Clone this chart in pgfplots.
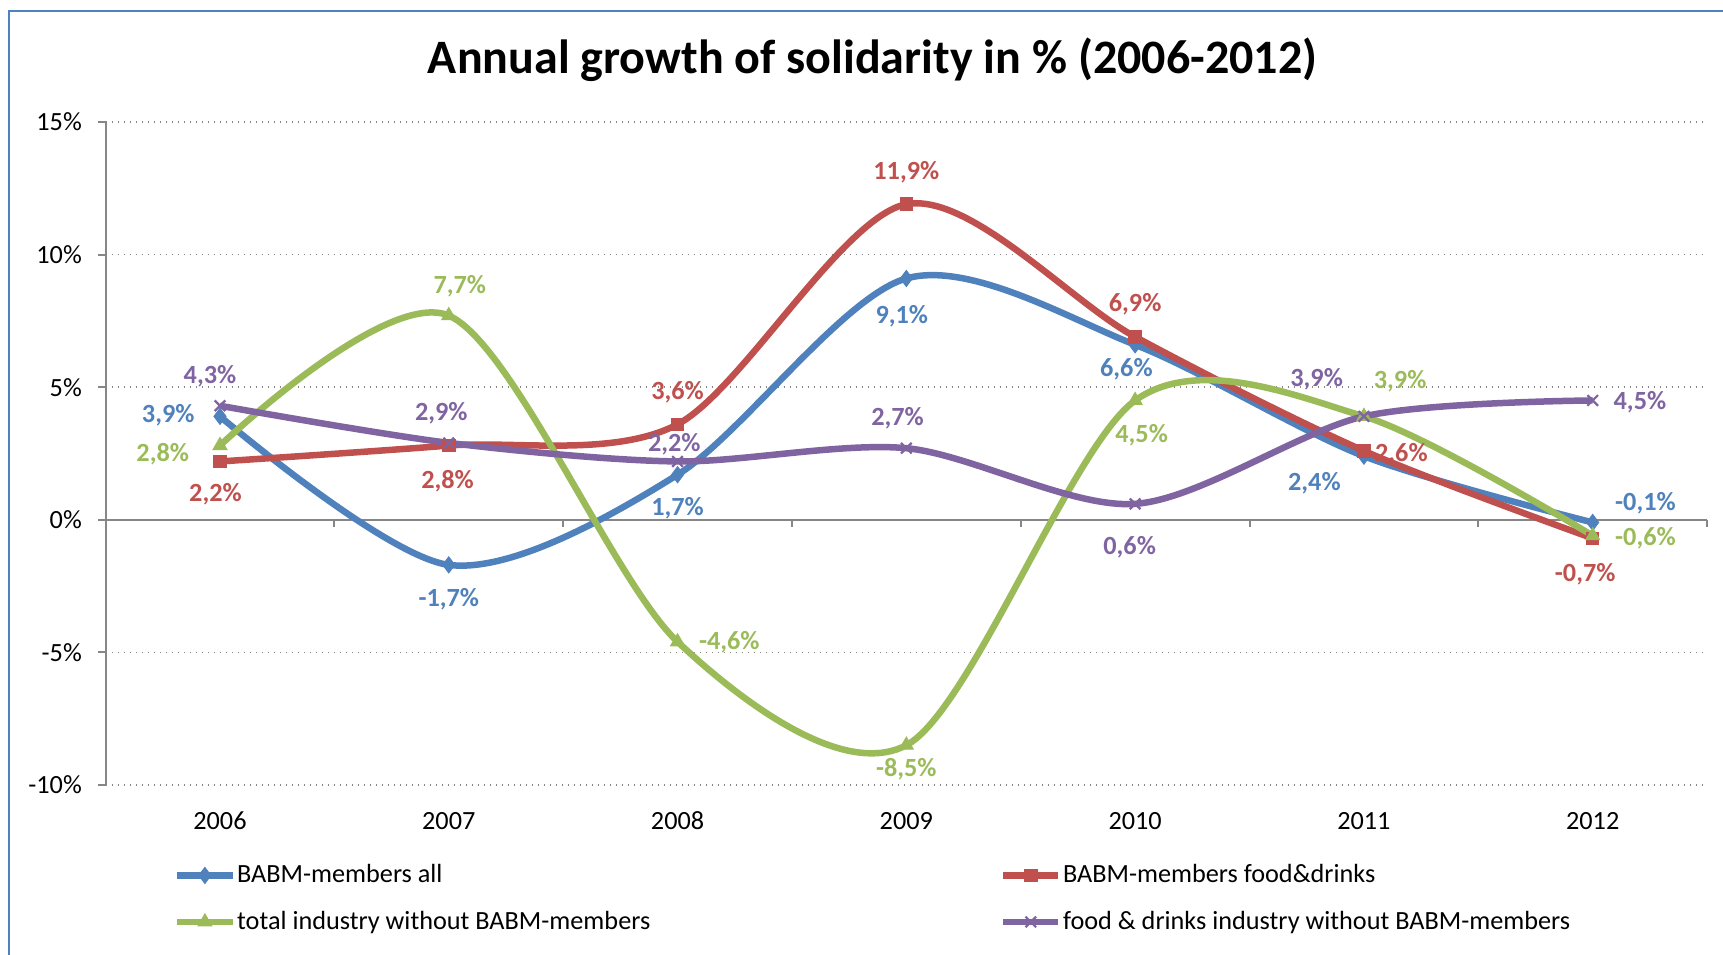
\documentclass[border=0pt]{standalone}
\usepackage{fontspec}
\setmainfont{Carlito}
\usepackage{pgfplots}
\usepackage{pgfplotstable}
\pgfplotsset{compat=1.18}

\definecolor{sBlue}{HTML}{4F81BD}
\definecolor{sRed}{HTML}{C0504D}
\definecolor{sGreen}{HTML}{9BBB59}
\definecolor{sPurple}{HTML}{8064A2}
\definecolor{axgray}{HTML}{868686}

% x = year index (0 = 2006), lab = data label, dx/dy = label offset in pt
\pgfplotstableread{
x y lab dx dy
0 3.9 3,9 -20.7 0.4
1 -1.7 -1,7 0 -13.6
2 1.7 1,7 0 -13.6
3 9.1 9,1 -1.8 -15
4 6.6 6,6 -3.5 -9.7
5 2.4 2,4 -19.8 -11
6 -0.1 -0,1 21.1 7.5
}\babmall
\pgfplotstableread{
x y lab dx dy
0 2.2 2,2 -1.8 -13.2
1 2.8 2,8 -0.5 -14.3
2 3.6 3,6 0 12.8
3 11.9 11,9 0 12.8
4 6.9 6,9 0 13.2
5 2.6 2,6 15 -1.3
6 -0.7 -0,7 -3 -14.5
}\babmfood
\pgfplotstableread{
x y lab dx dy
0 2.8 2,8 -22.9 -3.3
1 7.7 7,7 4.4 11.9
2 -4.6 -4,6 20.7 0
3 -8.5 -8,5 0 -9.7
4 4.5 4,5 2.6 -13.9
5 3.9 3,9 14.5 14.1
6 -0.6 -0,6 21.1 -1.1
}\totalind
\pgfplotstableread{
x y lab dx dy
0 4.3 4,3 -4 11.9
1 2.9 2,9 -3 11.9
2 2.2 2,2 -1.3 7
3 2.7 2,7 -3.5 11.9
4 0.6 0,6 -2.2 -17.4
5 3.9 3,9 -18.9 15
6 4.5 4,5 18.9 -0.7
}\foodind

\begin{document}
\begin{tikzpicture}
\useasboundingbox (0,0) rectangle (689.2pt,-382pt);
\draw[sBlue, line width=0.8pt] (3.4pt,-400pt) -- (3.4pt,-4.6pt) -- (700pt,-4.6pt);
\node[font=\bfseries\fontsize{19.2}{22}\selectfont] at (349pt,-24pt) {Annual growth of solidarity in \% (2006-2012)};

\begin{axis}[
  at={(42.24pt,-314pt)}, anchor=south west,
  scale only axis, width=640.6pt, height=265.2pt,
  xmin=-0.5, xmax=6.5, ymin=-10, ymax=15,
  xtick={0,...,6}, xticklabels={2006,2007,2008,2009,2010,2011,2012},
  ytick={-10,-5,0,5,10,15}, yticklabels={-10\%,-5\%,0\%,5\%,10\%,15\%},
  axis x line*=bottom, axis y line*=left,
  x axis line style={draw=none}, xtick style={draw=none},
  y axis line style={axgray, line width=0.8pt},
  ytick style={axgray, line width=0.8pt},
  tick align=outside, major tick length=3pt,
  ymajorgrids, grid style={axgray, dotted, line width=0.6pt},
  tick label style={font=\fontsize{10.5}{12}\selectfont, black},
  xticklabel style={anchor=center, yshift=-11.4pt},
  yticklabel style={xshift=-3pt},
  clip=false,
  every axis plot/.append style={line width=2.6pt, smooth},
  point meta=explicit symbolic,
  visualization depends on={\thisrow{dx} \as \ldx},
  visualization depends on={\thisrow{dy} \as \ldy},
  nodes near coords={\pgfplotspointmeta\%},
  nodes near coords style={font=\bfseries\fontsize{10.5}{12}\selectfont, anchor=center, inner sep=0pt, xshift=\ldx pt, yshift=\ldy pt},
  legend columns=2, legend cell align=left,
  legend style={at={(0.0425,-0.1715)}, anchor=west, draw=none, fill=none, inner sep=0pt,
    font=\fontsize{10.5}{12}\selectfont, row sep=5.8pt, nodes={inner xsep=0.6pt},
    /tikz/every even column/.append style={column sep=139.3pt}},
  legend image code/.code={\draw[mark repeat=2, mark phase=2] plot coordinates {(0pt,0pt) (11pt,0pt) (22pt,0pt)};},
]
\draw[axgray, line width=0.8pt] (axis cs:-0.5,0) -- (axis cs:6.5,0);
\pgfplotsinvokeforeach{-0.5,0.5,1.5,2.5,3.5,4.5,5.5,6.5}{
  \draw[axgray, line width=0.8pt] (axis cs:#1,0) -- ([yshift=-3pt]axis cs:#1,0);
}

\addplot[sBlue, mark=diamond*, mark size=3.2pt, mark options={solid, line width=0.4pt},
  every node near coord/.append style={text=sBlue}]
  table[x=x, y=y, meta=lab] {\babmall};
\addlegendentry{BABM-members all}

\addplot[sRed, mark=square*, mark size=2.5pt, mark options={solid, line width=0.4pt},
  every node near coord/.append style={text=sRed}]
  table[x=x, y=y, meta=lab] {\babmfood};
\addlegendentry{BABM-members food\&drinks}

\addplot[sGreen, mark=triangle*, mark size=3.2pt, mark options={solid, line width=0.4pt},
  every node near coord/.append style={text=sGreen}]
  table[x=x, y=y, meta=lab] {\totalind};
\addlegendentry{total industry without BABM-members}

\addplot[sPurple, mark=x, mark size=3pt, mark options={solid, line width=0.9pt},
  every node near coord/.append style={text=sPurple}]
  table[x=x, y=y, meta=lab] {\foodind};
\addlegendentry{food \& drinks industry without BABM-members}
\end{axis}
\end{tikzpicture}
\end{document}
